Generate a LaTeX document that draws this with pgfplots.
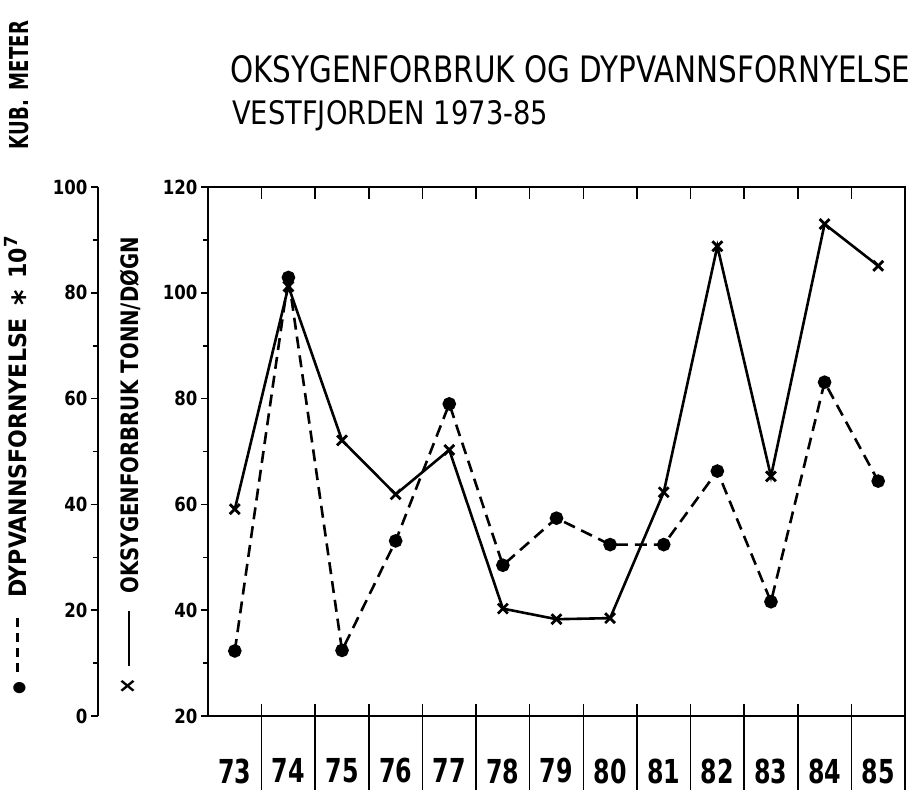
\documentclass[border=0pt]{standalone}
\usepackage{pgfplots}
\pgfplotsset{compat=1.18}
\usepackage{fontspec}
\setmainfont{DejaVu Sans}
\newfontfamily\titlefam{DejaVu Sans}
\newfontfamily\labfam[FakeStretch=0.82]{DejaVu Sans}
\newfontfamily\laboutfam[FakeStretch=0.92]{DejaVu Sans}
\newfontfamily\tickfam[FakeStretch=0.85]{DejaVu Sans}
\newfontfamily\xtickfam[FakeStretch=0.72]{DejaVu Sans}
\newcommand\labf{\labfam\bfseries\fontsize{24bp}{24bp}\selectfont}
\newcommand\laboutf{\laboutfam\bfseries\fontsize{24bp}{24bp}\selectfont}
\newcommand\tickf{\tickfam\bfseries\fontsize{19.5bp}{19.5bp}\selectfont}
\newcommand\xtickf{\xtickfam\bfseries\fontsize{33bp}{33bp}\selectfont}

\pgfplotstableread{
x y
0.5 59.1
1.5 101.2
2.5 72.1
3.5 61.9
4.5 70.3
5.5 40.3
6.5 38.3
7.5 38.5
8.5 62.3
9.5 108.8
10.5 65.3
11.5 113.0
12.5 105.1
}\oksygen

\pgfplotstableread{
x y
0.5 12.3
1.5 82.9
2.5 12.4
3.5 33.1
4.5 59.0
5.5 28.5
6.5 37.4
7.5 32.4
8.5 32.4
9.5 46.3
10.5 21.6
11.5 63.1
12.5 44.4
}\dypvann

\begin{document}
\begin{tikzpicture}
\path[use as bounding box] (0bp,0bp) rectangle (918bp,-794bp);
\node[anchor=base west,inner sep=0] at (230bp,-82bp) {\resizebox{680bp}{27bp}{\titlefam OKSYGENFORBRUK OG DYPVANNSFORNYELSE}};
\node[anchor=base west,inner sep=0] at (232bp,-124bp) {\resizebox{316bp}{24bp}{\titlefam VESTFJORDEN 1973-85}};
\node[rotate=90,inner sep=0] at (19bp,-85bp) {\resizebox{128bp}{19bp}{\titlefam\bfseries KUB.\hspace{2bp} METER}};

\begin{axis}[
  at={(208bp,-716bp)}, anchor=south west,
  width=697bp, height=529bp, scale only axis,
  xmin=0, xmax=13, ymin=20, ymax=120,
  axis line style={line width=2.5bp},
  ytick={20,40,60,80,100,120},
  minor ytick={30,50,70,90,110},
  ytick pos=left,
  tick align=outside,
  major tick length=7bp, minor tick length=5bp,
  every tick/.append style={line width=1.6bp, black},
  yticklabel style={font=\tickf},
  /pgf/number format/assume math mode=true,
  xtick={0.5,1.5,...,12.5},
  xticklabels={73,74,75,76,77,78,79,80,81,82,83,84,85},
  xtick pos=left,
  xtick style={draw=none},
  xticklabel style={font=\xtickf, yshift=-32bp},
  ylabel={\labf\raisebox{3bp}{×}\hspace{12bp}\rule[8bp]{55bp}{2.2bp}\hspace{18bp}OKSYGENFORBRUK TONN/DØGN},
  ylabel style={at={(axis description cs:-0.112,0.04)}, anchor=west, inner sep=0},
  clip=false,
]
\addplot[black, line width=2.6bp, mark=x, mark size=7bp, mark options={line width=2.8bp}] table {\oksygen};
\pgfplotsinvokeforeach{1,...,12}{
  \draw[line width=1.6bp] (axis cs:#1,120) -- ([yshift=-12bp]axis cs:#1,120);
  \draw[line width=1.6bp] ([yshift=12bp]axis cs:#1,20) -- ([yshift=-74bp]axis cs:#1,20);
}
\draw[line width=1.6bp] (axis cs:13,20) -- ([yshift=-74bp]axis cs:13,20);
\end{axis}

\begin{axis}[
  at={(98bp,-716bp)}, anchor=south west,
  width=807bp, height=529bp, scale only axis,
  xmin=-2.0517, xmax=13, ymin=0, ymax=100,
  hide x axis, axis y line*=left,
  y axis line style={line width=2.5bp},
  ytick={0,20,40,60,80,100},
  minor ytick={10,30,50,70,90},
  tick align=outside,
  major tick length=7bp, minor tick length=5bp,
  every tick/.append style={line width=1.6bp, black},
  yticklabel style={font=\tickf},
  /pgf/number format/assume math mode=true,
  ylabel={\laboutf\raisebox{3bp}{\fontsize{16bp}{16bp}\selectfont ●}\hspace{10bp}\rule[8bp]{9bp}{2.2bp}\hspace{6bp}\rule[8bp]{9bp}{2.2bp}\hspace{6bp}\rule[8bp]{9bp}{2.2bp}\hspace{6bp}\rule[8bp]{9bp}{2.2bp}\hspace{20bp}DYPVANNSFORNYELSE\hspace{12bp}\raisebox{-9bp}{\fontsize{32bp}{32bp}\selectfont *}\hspace{12bp}10\raisebox{9bp}{\fontsize{18bp}{18bp}\selectfont 7}},
  ylabel style={at={(axis description cs:-0.0967,0.04)}, anchor=west, inner sep=0},
  clip=false,
]
\addplot[black, line width=2.6bp, dash pattern=on 12bp off 7bp, mark=*, mark size=5.5bp, mark options={solid}] table {\dypvann};
\end{axis}
\end{tikzpicture}
\end{document}
